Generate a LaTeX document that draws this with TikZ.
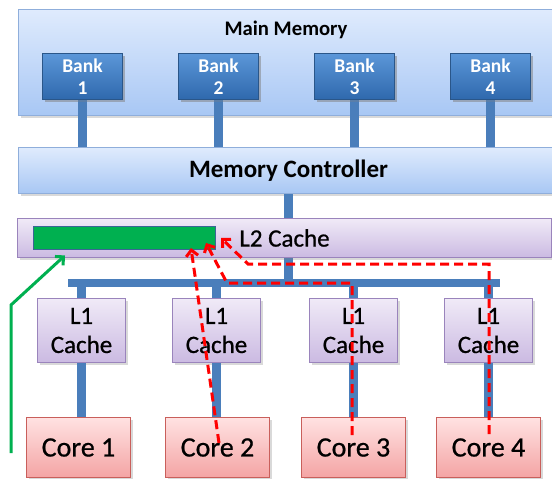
\documentclass[tikz,border=0pt]{standalone}
\usepackage{fontspec}
\setmainfont{Carlito}
\newfontfamily\medfont[FakeBold=0.7]{Carlito}
\usetikzlibrary{arrows.meta,shadows}

\definecolor{memtop}{HTML}{DFEBFD}
\definecolor{membot}{HTML}{A8C7F4}
\definecolor{memline}{HTML}{8FAEDB}
\definecolor{banktop}{HTML}{5B96D8}
\definecolor{bankbot}{HTML}{2F69AD}
\definecolor{bankline}{HTML}{2A5689}
\definecolor{linkblue}{HTML}{4A7EBB}
\definecolor{cachetop}{HTML}{F0EAF7}
\definecolor{cachebot}{HTML}{CBBAE2}
\definecolor{cacheline}{HTML}{9A84BC}
\definecolor{coretop}{HTML}{FFE2E2}
\definecolor{corebot}{HTML}{F4A4A4}
\definecolor{coreline}{HTML}{C95F5B}
\definecolor{hotgreen}{HTML}{00B050}
\definecolor{missred}{HTML}{FF0000}

\begin{document}
\begin{tikzpicture}[x=1pt, y=-1pt,
	box/.style={inner sep=0pt, anchor=north west, line width=1pt,
		drop shadow={shadow xshift=2pt, shadow yshift=-2pt, opacity=.3}},
	membox/.style={box, draw=memline, top color=memtop, bottom color=membot},
	bankbox/.style={box, draw=bankline, top color=banktop, bottom color=bankbot,
		minimum width=80pt, minimum height=46pt, align=center, text=white,
		font=\bfseries\fontsize{19.5}{22}\selectfont},
	cachebox/.style={box, draw=cacheline, top color=cachetop, bottom color=cachebot},
	corebox/.style={box, draw=coreline, top color=coretop, bottom color=corebot,
		minimum width=104pt, minimum height=60pt, font=\medfont\fontsize{28}{32}\selectfont},
	link/.style={line width=9pt, linkblue},
	miss/.style={line width=3pt, missred, dash pattern=on 9pt off 5pt,
		-{Straight Barb[length=6pt, width=12pt]}},
	fill arrow/.style={line width=3pt, hotgreen,
		-{Straight Barb[length=6pt, width=12pt]}}]
	\useasboundingbox (0,0) rectangle (552,479);

	% main memory with its banks
	\node[membox, minimum width=540pt, minimum height=106pt] (mainmem) at (18,9) {};
	\node[font=\bfseries\fontsize{20.7}{24}\selectfont] (mmtitle) at (286,30) {Main Memory};
	\node[membox, minimum width=540pt, minimum height=46pt,
		font=\bfseries\fontsize{25}{29}\selectfont] (mc) at (18,147) {Memory Controller};
	\foreach \i/\x in {1/42, 2/178, 3/314, 4/450}{
		\node[bankbox] (bank\i) at (\x,53) {};
		\draw[link] (bank\i.south) -- (bank\i.south |- mc.north);
		\node[bankbox] at (\x,53) {Bank\\\i};
	}

	% shared L2 and bus
	\coordinate (busw) at (68,283);
	\coordinate (buse) at (500,283);
	\draw[link] (mc.south) -- (mc.south |- busw);
	\draw[link, line width=8pt] (busw) -- (buse);
	\node[cachebox, minimum width=534pt, minimum height=39pt,
		font=\medfont\fontsize{25}{29}\selectfont] (l2) at (17,218) {L2 Cache};
	\node[inner sep=0pt, anchor=north west, draw=linkblue!80!black, fill=hotgreen,
		minimum width=182pt, minimum height=23pt] (hotline) at (33,226) {};

	% private L1 caches and cores
	\foreach \i/\x/\c in {1/37/26, 2/172/165, 3/309/301, 4/444/436}{
		\node[corebox] (core\i) at (\c,417) {Core \i};
		\node[cachebox, minimum width=88pt, minimum height=64pt, align=center,
			font=\medfont\fontsize{25}{29}\selectfont] (l1\i) at (\x,298) {L1\\Cache};
		\draw[link] (l1\i.north |- busw) -- (l1\i.north);
		\draw[link] (l1\i.south) -- (l1\i.south |- core\i.north);
	}

	% misses going up to L2
	\coordinate (m2a) at (219,443);
	\coordinate (m2t) at (191,248);
	\coordinate (m3a) at (352,435);
	\coordinate (m3b) at (352,283);
	\coordinate (m3c) at (227,283);
	\coordinate (m3t) at (206,243);
	\coordinate (m4a) at (489,434);
	\coordinate (m4b) at (489,264);
	\coordinate (m4c) at (248,264);
	\coordinate (m4t) at (221,238);
	\draw[miss] (m2a) -- (m2t);
	\draw[miss] (m3a) -- (m3b) -- (m3c) -- (m3t);
	\draw[miss] (m4a) -- (m4b) -- (m4c) -- (m4t);

	% green pointer
	\coordinate (g1) at (11,453);
	\coordinate (g2) at (11,305);
	\draw[fill arrow] (g1) -- (g2) -- ([shift={(32,6)}]hotline.south west);
\end{tikzpicture}
\end{document}
